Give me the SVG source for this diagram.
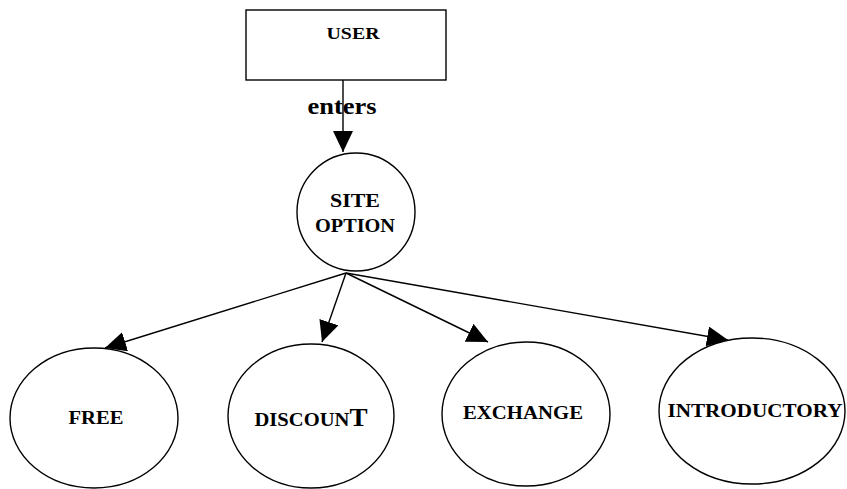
<svg xmlns="http://www.w3.org/2000/svg" width="847" height="489" viewBox="0 0 847 489">
<style>
.shape{fill:#fff;stroke:#000;stroke-width:1.4}
.lbl{font-family:"Liberation Serif","Times New Roman",serif;font-weight:bold;fill:#000;text-anchor:middle}
.edge{stroke:#000;stroke-width:1.4;fill:none;marker-end:url(#ah)}
</style>
<defs>
<marker id="ah" markerUnits="userSpaceOnUse" markerWidth="24" markerHeight="22" refX="21" refY="10" orient="auto">
<path d="M0,0 L21,10 L0,20 Z" fill="#000"/>
</marker>
</defs>
<rect width="847" height="489" fill="#fff"/>
<g id="user">
<rect class="shape" x="246" y="10" width="200" height="70"/>
<text class="lbl" x="353" y="39" font-size="17" textLength="53" lengthAdjust="spacingAndGlyphs">USER</text>
</g>
<g id="site-option">
<circle class="shape" cx="356" cy="212" r="59"/>
<text class="lbl" x="355" y="207" font-size="18" textLength="50" lengthAdjust="spacingAndGlyphs">SITE</text>
<text class="lbl" x="355" y="232" font-size="18" textLength="80" lengthAdjust="spacingAndGlyphs">OPTION</text>
</g>
<g id="free">
<ellipse class="shape" cx="94" cy="418" rx="84" ry="70"/>
<text class="lbl" x="96" y="424" font-size="19" textLength="55" lengthAdjust="spacingAndGlyphs">FREE</text>
</g>
<g id="discount">
<ellipse class="shape" cx="311" cy="416" rx="83" ry="72"/>
<text class="lbl" x="311" y="426" font-size="19" textLength="113" lengthAdjust="spacingAndGlyphs">DISCOUN<tspan font-size="25">T</tspan></text>
</g>
<g id="exchange">
<ellipse class="shape" cx="526" cy="414" rx="84" ry="72"/>
<text class="lbl" x="523" y="419" font-size="19" textLength="120" lengthAdjust="spacingAndGlyphs">EXCHANGE</text>
</g>
<g id="introductory">
<ellipse class="shape" cx="752" cy="411" rx="93" ry="73"/>
<text class="lbl" x="755" y="417" font-size="19" textLength="175" lengthAdjust="spacingAndGlyphs">INTRODUCTORY</text>
</g>
<g id="connectors">
<line class="edge" x1="343" y1="80" x2="343" y2="152"/>
<line class="edge" x1="346" y1="273" x2="105" y2="348"/>
<line class="edge" x1="346" y1="273" x2="322" y2="342"/>
<line class="edge" x1="346" y1="273" x2="488" y2="342"/>
<line class="edge" x1="346" y1="273" x2="728" y2="340"/>
<text class="lbl" x="342" y="114" font-size="23" textLength="69" lengthAdjust="spacingAndGlyphs">enters</text>
</g>
</svg>
